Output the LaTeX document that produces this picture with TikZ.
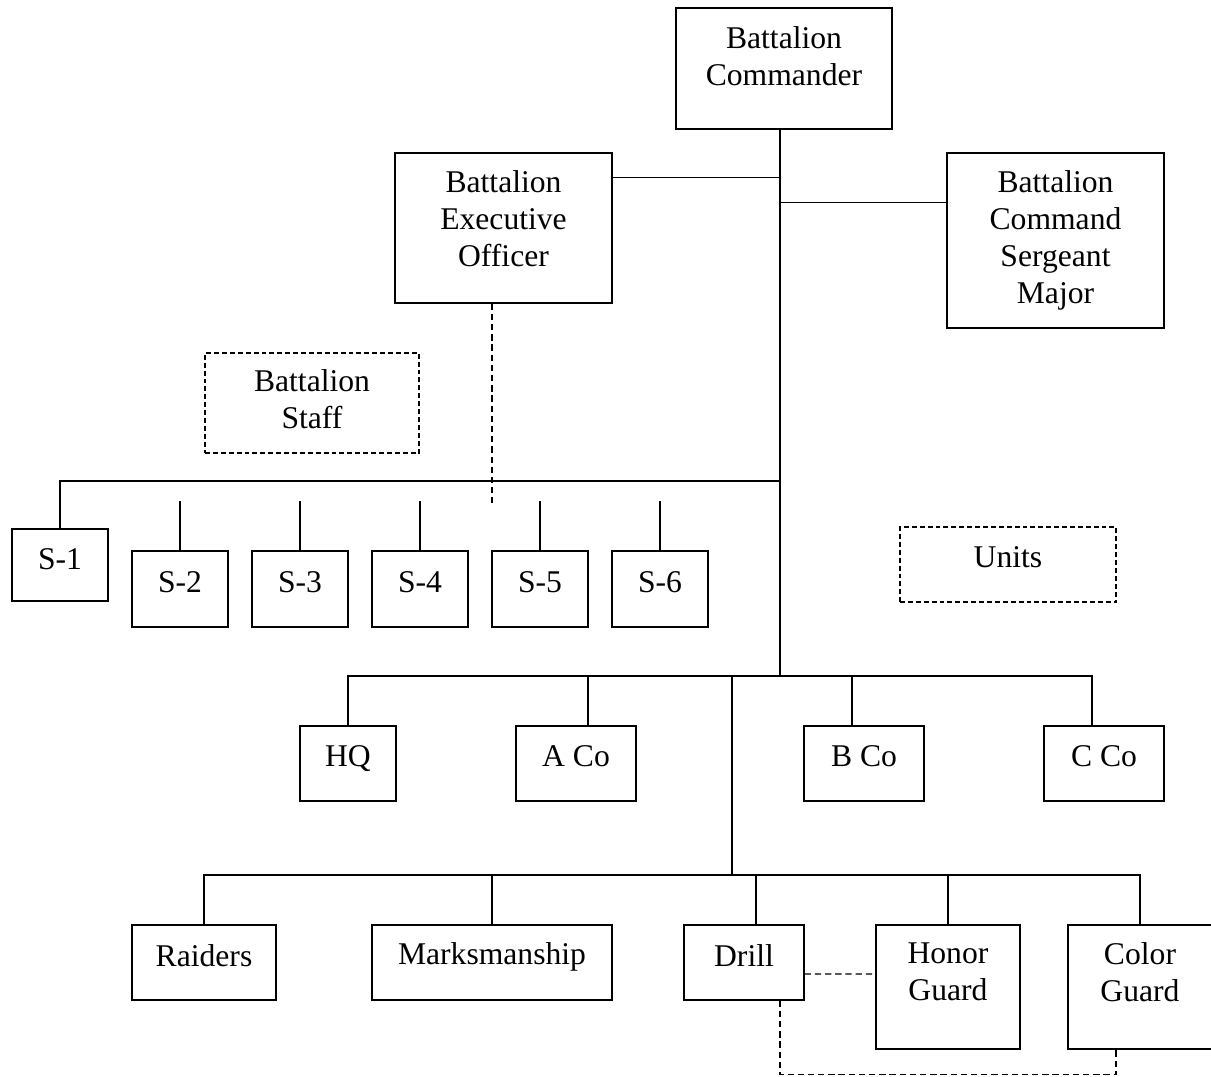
\documentclass[tikz,border=0pt]{standalone}
\usepackage{fontspec}
\setmainfont{Liberation Serif}
\usetikzlibrary{calc}

\begin{document}
\begin{tikzpicture}[x=0.02cm,y=-0.02cm]
	\tikzstyle{every node}=[font=\fontsize{18}{21}\selectfont, align=center, inner sep=0pt]
	\tikzstyle{post}=[draw, line width=0.75pt]
	\tikzstyle{plan}=[draw, line width=0.75pt, dash pattern=on 2.8pt off 1.7pt]
	\tikzstyle{link}=[line width=0.75pt]
	\tikzstyle{dlink}=[line width=0.75pt, dash pattern=on 3.6pt off 2.2pt]
	
	\useasboundingbox (0,0) rectangle (1211,1076);
	
	% command group
	\node[post, minimum width=4.32cm, minimum height=2.42cm, text depth=14.3pt] (bc) at (784,68.5) {Battalion\\Commander};
	\node[post, minimum width=4.34cm, minimum height=3cm, text depth=10.5pt] (xo) at (503.5,228) {Battalion\\Executive\\Officer};
	\node[post, minimum width=4.34cm, minimum height=3.5cm, text depth=3.7pt] (csm) at (1055.5,240.5) {Battalion\\Command\\Sergeant\\Major};
	
	% junctions
	\coordinate (staffbar) at (780,481);
	\coordinate (unitbar) at (780,676);
	\coordinate (actbar) at (732,875);
	
	\draw[link] (bc.south -| unitbar) -- (unitbar);
	\draw[link] ($(xo.north east)+(0,25)$) -- ++(168,0);
	\draw[link] ($(csm.north west)+(0,50)$) -- ++(-167,0);
	\draw[dlink] ($(xo.south)+(-11.5,0)$) -- ++(0,199);
	
	% staff
	\node[plan, minimum width=4.28cm, minimum height=2cm, text depth=4.1pt] (staff) at (312,403) {Battalion\\Staff};
	\node[post, minimum width=1.92cm, minimum height=1.44cm, text depth=6.6pt] (s1) at (60,565) {S-1};
	\foreach \i/\x in {2/180,3/300,4/420,5/540,6/660}{
		\node[post, minimum width=1.92cm, minimum height=1.52cm, text depth=7.7pt] (s\i) at (\x,589) {S-\i};
		\draw[link] (s\i.north) -- ++(0,-49);
	}
	\draw[link] (staffbar) -| (s1.north);
	
	% units
	\node[plan, minimum width=4.32cm, minimum height=1.5cm, text depth=8.3pt] (units) at (1008,564.5) {Units};
	\node[post, minimum width=1.92cm, minimum height=1.5cm, text depth=8.3pt] (hq) at (348,763.5) {HQ};
	\node[post, minimum width=2.4cm, minimum height=1.5cm, text depth=8.3pt] (aco) at (576,763.5) {A Co};
	\node[post, minimum width=2.4cm, minimum height=1.5cm, text depth=8.3pt] (bco) at (864,763.5) {B Co};
	\node[post, minimum width=2.4cm, minimum height=1.5cm, text depth=8.3pt] (cco) at (1104,763.5) {C Co};
	
	\draw[link] (hq.north) |- (unitbar) -| ($(cco.north)+(-12,0)$);
	\draw[link] ($(aco.north)+(12,0)$) -- ++(0,-50);
	\draw[link] ($(bco.north)+(-12,0)$) -- ++(0,-50);
	\draw[link] (unitbar -| actbar) -- (actbar);
	
	% activities
	\node[post, minimum width=2.88cm, minimum height=1.5cm, text depth=8.3pt] (raid) at (204,962.5) {Raiders};
	\node[post, minimum width=4.8cm, minimum height=1.5cm, text depth=10.6pt] (mark) at (492,962.5) {Marksmanship};
	\node[post, minimum width=2.4cm, minimum height=1.5cm, text depth=8.3pt] (drill) at (744,962.5) {Drill};
	\node[post, minimum width=2.88cm, minimum height=2.48cm, text depth=17.5pt] (hg) at (948,987) {Honor\\Guard};
	\node[post, minimum width=2.88cm, minimum height=2.48cm, text depth=17.5pt] (cg) at (1140,987) {Color\\Guard};
	
	\draw[link] (raid.north) |- (actbar) -| (cg.north);
	\draw[link] (mark.north) -- ++(0,-50);
	\draw[link] ($(drill.north)+(12,0)$) -- ++(0,-50);
	\draw[link] (hg.north) -- ++(0,-50);
	
	\draw[dlink] ($(drill.east)+(0,11.5)$) -- ($(hg.west)+(0,-13)$);
	\draw[dlink] ($(drill.south)+(36,0)$) -- ++(0,74) -| ($(cg.south)+(-24,0)$);
	
\end{tikzpicture}
\end{document}
